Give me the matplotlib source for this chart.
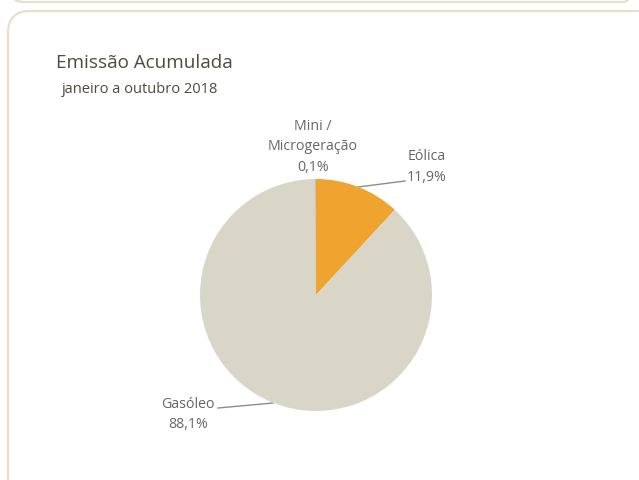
import matplotlib.pyplot as plt
from matplotlib.patches import FancyBboxPatch

plt.rcParams['font.family'] = ['Open Sans', 'DejaVu Sans']

# data
categories = ["Eólica", "Gasóleo", "Mini /\nMicrogeração"]
shares = [11.9, 88.1, 0.1]
share_labels = ["11,9%", "88,1%", "0,1%"]
colors = ["#F0A430", "#D9D6C8", "#A9A9A9"]

title = "Emissão Acumulada"
subtitle = "janeiro a outubro 2018"

W, H = 639, 480
fig = plt.figure(figsize=(W / 100, H / 100), dpi=100)

# background axes in pixel coords (y down)
bg = fig.add_axes([0, 0, 1, 1])
bg.set_xlim(0, W)
bg.set_ylim(H, 0)
bg.axis("off")

border = "#E6E1CC"
# bottom of the previous panel
bg.add_patch(FancyBboxPatch((10, -60), 627, 62, boxstyle="round,pad=0,rounding_size=14",
                            fill=False, ec=border, lw=1.6, clip_on=True))
# main panel
bg.add_patch(FancyBboxPatch((8, 11), 660, 520, boxstyle="round,pad=0,rounding_size=22",
                            fill=False, ec=border, lw=1.6, clip_on=True))

bg.text(56, 68, title, fontsize=13.6, color="#4F4A40", va="baseline")
bg.text(62, 93, subtitle, fontsize=10.5, color="#4F4A40", va="baseline")

# pie
cx, cy, r = 316, 295, 116
ax = fig.add_axes([(cx - r) / W, (H - cy - r) / H, 2 * r / W, 2 * r / H])
ax.pie(shares, colors=colors, startangle=90, counterclock=False,
       wedgeprops=dict(linewidth=0))
ax.set_xlim(-1, 1)
ax.set_ylim(-1, 1)
ax.axis("off")

txt = "#666666"
lab = 10.2


def label(x, y, name, value):
    lines = name.split("\n") + [value]
    top = y - 20.5 * (len(lines) - 1)
    for i, s in enumerate(lines):
        bg.text(x, top + 20.5 * i, s, fontsize=lab, color=txt, ha="center", va="baseline")


label(313, 171, categories[2], share_labels[2])
label(427, 181, categories[0], share_labels[0])
label(188, 428, categories[1], share_labels[1])

bg.plot([358, 405], [187, 181], color="#8C8C8C", lw=1)
bg.plot([273, 218], [403, 408], color="#8C8C8C", lw=1)

fig.savefig("out.png", dpi=100)
